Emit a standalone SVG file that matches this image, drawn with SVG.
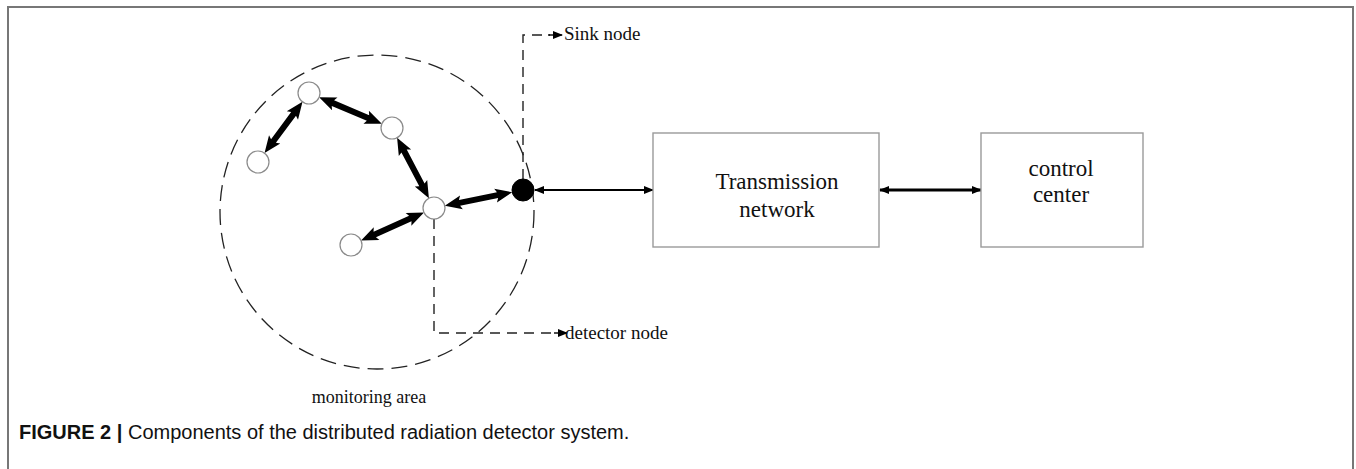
<svg xmlns="http://www.w3.org/2000/svg" width="1356" height="469" viewBox="0 0 1356 469">
<style>
.frame{fill:none;stroke:#777;stroke-width:2}
.box{fill:#fff;stroke:#9a9a9a;stroke-width:1.4}
.node{fill:#fff;stroke:#8a8a8a;stroke-width:1.2}
.sink{fill:#000;stroke:#000;stroke-width:1}
.dash{fill:none;stroke:#222;stroke-width:1.4;stroke-dasharray:10 7}
.area{fill:none;stroke:#222;stroke-width:1.3;stroke-dasharray:16 8}
.thick{fill:#000}
.t{font-family:"Liberation Serif","Times New Roman",serif;fill:#111}
.cap{font-family:"Liberation Sans",Arial,sans-serif;fill:#111}
</style>
<defs>
<marker id="ah" viewBox="0 0 10 8" refX="9" refY="4" markerWidth="10" markerHeight="8" markerUnits="userSpaceOnUse" orient="auto-start-reverse"><path d="M0,0 L10,4 L0,8 Z" fill="#000"/></marker>
</defs>
<path class="frame" d="M8,469 V7 H1353 V469"/>
<circle class="area" cx="377" cy="212" r="157"/>
<g id="connectors">
<g class="thick">
<path transform="translate(302.5,101.8) rotate(126.5)" d="M0,0 L17,-7 L15,-3 L48.8,-3 L46.8,-7 L63.8,0 L46.8,7 L48.8,3 L15,3 L17,7 Z"/>
<path transform="translate(319.1,97.3) rotate(22.9)" d="M0,0 L17,-7 L15,-3 L53.1,-3 L51.1,-7 L68.1,0 L51.1,7 L53.1,3 L15,3 L17,7 Z"/>
<path transform="translate(397.1,137.7) rotate(62.3)" d="M0,0 L17,-7 L15,-3 L53.4,-3 L51.4,-7 L68.4,0 L51.4,7 L53.4,3 L15,3 L17,7 Z"/>
<path transform="translate(424,212.5) rotate(156)" d="M0,0 L17,-7 L15,-3 L53.9,-3 L51.9,-7 L68.9,0 L51.9,7 L53.9,3 L15,3 L17,7 Z"/>
<path transform="translate(444.8,205.8) rotate(-11.4)" d="M0,0 L17,-7 L15,-3 L53.8,-3 L51.8,-7 L68.8,0 L51.8,7 L53.8,3 L15,3 L17,7 Z"/>
</g>
<line x1="535" y1="190" x2="653" y2="190" stroke="#000" stroke-width="2.2" marker-start="url(#ah)" marker-end="url(#ah)"/>
<line x1="880" y1="190" x2="981" y2="190" stroke="#000" stroke-width="3" marker-start="url(#ah)" marker-end="url(#ah)"/>
<path class="dash" d="M523,179 V35 H550"/>
<path d="M548,35 H562" stroke="#000" stroke-width="1.4" marker-end="url(#ah)"/>
<path class="dash" d="M434,219 V333 H556"/>
<path d="M554,333 H567" stroke="#000" stroke-width="1.4" marker-end="url(#ah)"/>
</g>
<g id="node-a"><circle class="node" cx="309" cy="93" r="11"/></g>
<g id="node-b"><circle class="node" cx="392" cy="128" r="11"/></g>
<g id="node-c"><circle class="node" cx="258" cy="162" r="11"/></g>
<g id="node-d"><circle class="node" cx="434" cy="208" r="11"/></g>
<g id="node-e"><circle class="node" cx="351" cy="245" r="11"/></g>
<g id="sink"><circle class="sink" cx="523" cy="190" r="11"/></g>
<g id="transmission">
<rect class="box" x="653" y="133" width="226" height="114"/>
<text class="t" x="777" y="189" font-size="23" text-anchor="middle">Transmission</text>
<text class="t" x="777" y="217" font-size="23" text-anchor="middle">network</text>
</g>
<g id="control">
<rect class="box" x="981" y="133" width="162" height="114"/>
<text class="t" x="1061" y="176" font-size="23" text-anchor="middle">control</text>
<text class="t" x="1061" y="202" font-size="23" text-anchor="middle">center</text>
</g>
<text class="t" x="564" y="40" font-size="19">Sink node</text>
<text class="t" x="565" y="339" font-size="19">detector node</text>
<text class="t" x="369" y="403" font-size="18" text-anchor="middle">monitoring area</text>
<text class="cap" x="19" y="439" font-size="20"><tspan font-weight="bold">FIGURE 2 |</tspan> Components of the distributed radiation detector system.</text>
</svg>
